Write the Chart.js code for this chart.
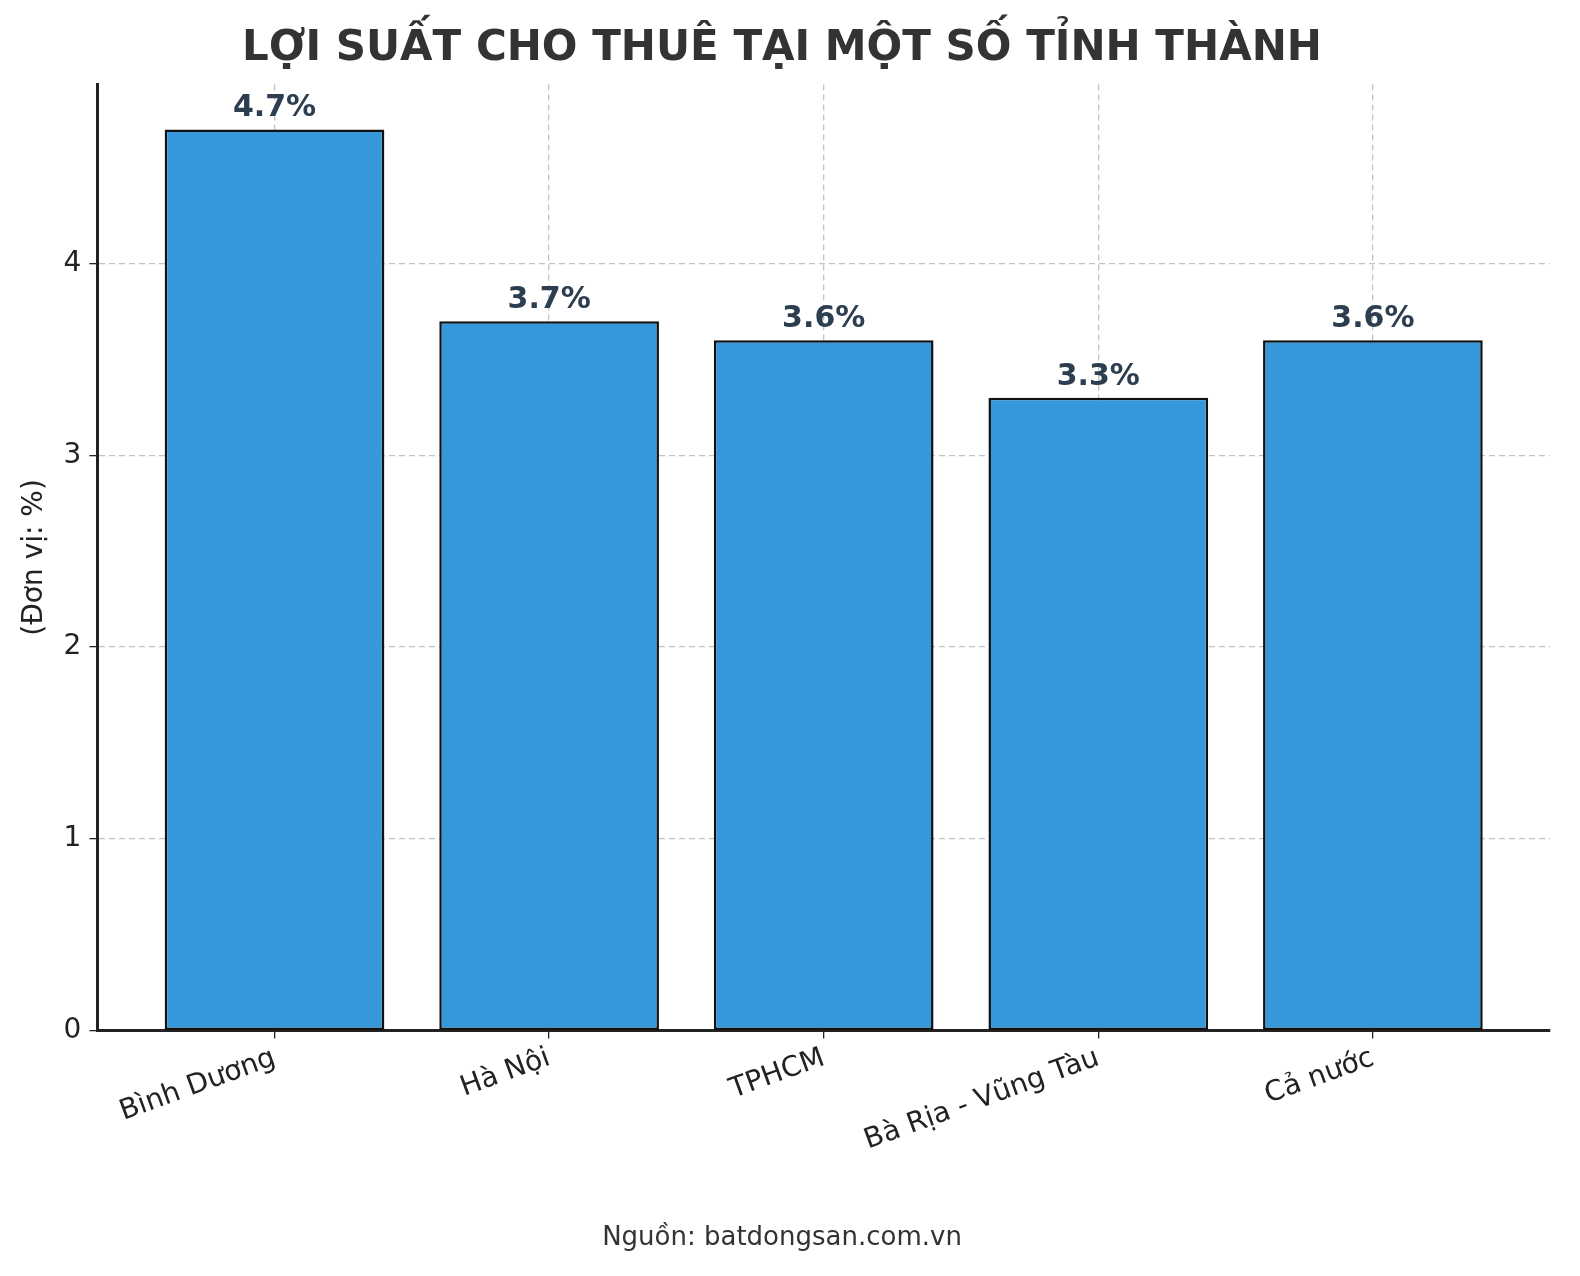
<!DOCTYPE html><html><head><meta charset="utf-8">
<script src="https://cdn.jsdelivr.net/npm/chart.js@4"></script>
<style>body{margin:0;background:#fff}</style></head><body>
<canvas id="c" width="1580" height="1276"></canvas>
<script>
const categories=["Bình Dương","Hà Nội","TPHCM","Bà Rịa - Vũng Tàu","Cả nước"];
const values=[4.7,3.7,3.6,3.3,3.6];
const yTicks=[0,1,2,3,4];
const F="DejaVu Sans";
const labelPlugin={id:'lbl',afterDatasetsDraw(ch){const ctx=ch.ctx;const m=ch.getDatasetMeta(0);ctx.save();ctx.font="bold 30px "+F;ctx.fillStyle="#2c3e50";ctx.textAlign="center";ctx.textBaseline="bottom";
m.data.forEach((b,i)=>ctx.fillText(values[i].toFixed(1)+"%",b.x,b.y-6));ctx.restore();}};
new Chart(document.getElementById('c'),{type:'bar',
data:{datasets:[{data:values.map((v,i)=>({x:i,y:v})),backgroundColor:'#3498db',borderColor:'#111',borderWidth:2.5,borderSkipped:false,barPercentage:0.8,categoryPercentage:1}]},
options:{responsive:false,animation:false,devicePixelRatio:1,
layout:{padding:{left:14,right:30,top:24,bottom:22}},
plugins:{legend:{display:false},tooltip:{enabled:false},
title:{display:true,text:"LỢI SUẤT CHO THUÊ TẠI MỘT SỐ TỈNH THÀNH",font:{family:F,size:42,weight:'bold'},color:'#333',padding:{top:0,bottom:10}},
subtitle:{display:true,position:'bottom',text:"Nguồn: batdongsan.com.vn",font:{family:F,size:26},color:'#333',padding:{top:62,bottom:0}}},
scales:{
x:{type:'linear',min:-0.645,max:4.645,z:1,offset:false,
afterBuildTicks(s){s.ticks=categories.map((c,i)=>({value:i}));},
ticks:{callback:(v)=>categories[v],font:{family:F,size:28},color:'#222',minRotation:20,maxRotation:20,autoSkip:false},
grid:{offset:false,color:'rgba(170,170,170,0.7)',tickColor:'#222',tickLength:8,lineWidth:1.3},
border:{color:'#222',width:3,dash:[6,4]}},
y:{min:0,max:4.935,z:1,
afterBuildTicks(s){s.ticks=yTicks.map(v=>({value:v}));},
ticks:{font:{family:F,size:28},color:'#222',padding:8},
title:{display:true,text:"(Đơn vị: %)",font:{family:F,size:28},color:'#222'},
grid:{color:'rgba(170,170,170,0.7)',tickColor:'#222',tickLength:8,lineWidth:1.3},
border:{color:'#222',width:3,dash:[6,4]}}}},
plugins:[labelPlugin]});
</script></body></html>
